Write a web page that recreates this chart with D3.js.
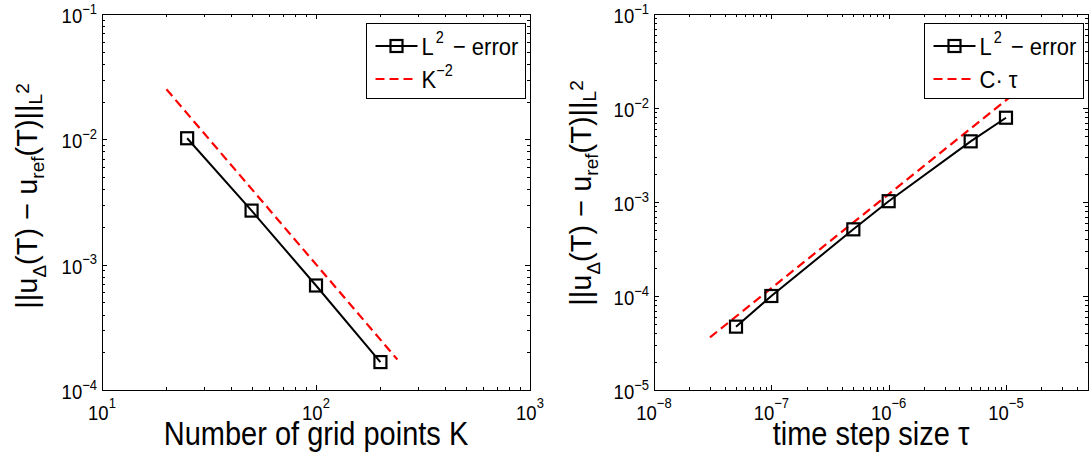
<!DOCTYPE html>
<html>
<head>
<meta charset="utf-8">
<script src="https://cdn.jsdelivr.net/npm/d3@7"></script>
<style>
body { margin: 0; background: #fff; }
svg { display: block; font-family: "Liberation Sans", Arial, sans-serif; }
</style>
</head>
<body>
<script>
// left panel: error vs number of grid points
var gridK = [25, 50, 100, 200];
var gridErr = [1.02e-2, 2.70e-3, 6.82e-4, 1.67e-4];
var gridRefK = [20, 240];
var gridRefErr = [2.51e-2, 1.75e-4];

// right panel: error vs time step
var tau = [5e-8, 1e-7, 5e-7, 1e-6, 5e-6, 1e-5];
var tauErr = [4.72e-5, 1.0e-4, 5.12e-4, 1.02e-3, 4.42e-3, 7.88e-3];
var tauRef = [3e-8, 2e-5];
var tauRefErr = [3.63e-5, 2.42e-2];

// tick label exponents
var leftXExp = [1, 2, 3];
var leftYExp = [-4, -3, -2, -1];
var rightXExp = [-8, -7, -6, -5];
var rightYExp = [-5, -4, -3, -2, -1];

var W = 1091, H = 463, SY = 1.12;

var svg = d3.select("body").append("svg")
    .attr("width", W)
    .attr("height", H);

function sup(e) { return e < 0 ? "\u2212" + (-e) : "" + e; }

// horizontal text looks a bit taller than normal in the reference
function stext(g, x, y) {
  return g.append("text").attr("transform", "translate(" + x + "," + y + ") scale(1," + SY + ")");
}

function isMajor(v) {
  var l = Math.log10(v);
  return Math.abs(l - Math.round(l)) < 1e-6;
}

function frame(g, x, y) {
  var x0 = x.range()[0], x1 = x.range()[1], y0 = y.range()[1], y1 = y.range()[0];
  var xt = x.ticks(), yt = y.ticks();
  var sides = [
    [d3.axisBottom(x), "translate(0," + y1 + ")", xt],
    [d3.axisTop(x), "translate(0," + y0 + ")", xt],
    [d3.axisLeft(y), "translate(" + x0 + ",0)", yt],
    [d3.axisRight(y), "translate(" + x1 + ",0)", yt]
  ];
  sides.forEach(function(s) {
    [[true, 5], [false, 3]].forEach(function(m) {
      var vals = s[2].filter(function(v) { return isMajor(v) === m[0]; });
      var a = g.append("g").attr("transform", s[1])
          .call(s[0].tickValues(vals).tickSizeInner(-m[1]).tickSizeOuter(0).tickFormat(""));
      a.select(".domain").remove();
      a.selectAll("line").attr("stroke", "#000").attr("shape-rendering", "crispEdges");
    });
  });
  g.append("rect")
      .attr("x", x0 + 0.5).attr("y", y0 + 0.5)
      .attr("width", x1 - x0).attr("height", y1 - y0)
      .attr("fill", "none").attr("stroke", "#000")
      .attr("shape-rendering", "crispEdges");
}

function xTickLabels(g, x, exps, yb) {
  exps.forEach(function(e) {
    var t = stext(g, x(Math.pow(10, e)), yb).attr("text-anchor", "middle").attr("font-size", 18.5);
    t.append("tspan").text("10");
    t.append("tspan").attr("font-size", 13).attr("dy", -12.5 / SY).text(sup(e));
  });
}

function yTickLabels(g, y, exps, xr) {
  exps.forEach(function(e) {
    var t = stext(g, xr, y(Math.pow(10, e)) + 9).attr("text-anchor", "end").attr("font-size", 18.5);
    t.append("tspan").text("10");
    t.append("tspan").attr("font-size", 13).attr("dy", -9.5 / SY).text(sup(e));
  });
}

function yLabel(g, xb, yc) {
  var t = g.append("text")
      .attr("transform", "translate(" + xb + "," + yc + ") rotate(-90)")
      .attr("text-anchor", "middle")
      .attr("font-size", 29);
  t.append("tspan").text("||u");
  t.append("tspan").attr("font-size", 19).attr("dy", 9).text("\u0394");
  t.append("tspan").attr("dy", -9).text("(T) \u2212 u");
  t.append("tspan").attr("font-size", 19).attr("dy", 6.5).text("ref");
  t.append("tspan").attr("dy", -6.5).text("(T)||");
  t.append("tspan").attr("font-size", 19).attr("dy", 5).text("L");
  t.append("tspan").attr("font-size", 19).attr("dy", -13).text("2");
}

function panel(o) {
  var g = svg.append("g");
  var x = d3.scaleLog().domain(o.xd).range(o.xr);
  var y = d3.scaleLog().domain(o.yd).range([390, 14]);
  var line = d3.line()
      .x(function(d) { return x(d[0]); })
      .y(function(d) { return y(d[1]); });

  frame(g, x, y);
  xTickLabels(g, x, o.xExp, 420);
  yTickLabels(g, y, o.yExp, o.xr[0] - 5);

  var p = g.append("g");
  p.append("path")
      .datum(d3.zip(o.refX, o.refY))
      .attr("d", line)
      .attr("fill", "none").attr("stroke", "#ff0000")
      .attr("stroke-width", 2.2).attr("stroke-dasharray", "9,5");
  p.append("path")
      .datum(d3.zip(o.dx, o.dy))
      .attr("d", line)
      .attr("fill", "none").attr("stroke", "#000").attr("stroke-width", 2);
  p.selectAll(".mk")
      .data(d3.zip(o.dx, o.dy))
      .enter().append("rect")
      .attr("class", "mk")
      .attr("x", function(d) { return x(d[0]) - 6; })
      .attr("y", function(d) { return y(d[1]) - 6; })
      .attr("width", 12).attr("height", 12)
      .attr("fill", "none").attr("stroke", "#000").attr("stroke-width", 2.2);

  // x label
  stext(g, (o.xr[0] + o.xr[1]) / 2, 445)
      .attr("text-anchor", "middle").attr("font-size", 29).text(o.xlabel);
  yLabel(g, o.ylx, o.yly);

  // legend
  var bx = o.xr[1] - 163.5, by = 23.5;
  var lg = g.append("g");
  lg.append("rect").attr("x", bx).attr("y", by).attr("width", 159).attr("height", 75)
      .attr("fill", "#fff").attr("stroke", "#000").attr("shape-rendering", "crispEdges");
  var r1 = by + 22.5, r2 = by + 55.5;
  lg.append("line").attr("x1", bx + 9).attr("x2", bx + 51).attr("y1", r1).attr("y2", r1)
      .attr("stroke", "#000").attr("stroke-width", 2);
  lg.append("rect").attr("x", bx + 24).attr("y", r1 - 6).attr("width", 12).attr("height", 12)
      .attr("fill", "none").attr("stroke", "#000").attr("stroke-width", 2.2);
  lg.append("line").attr("x1", bx + 9).attr("x2", bx + 51).attr("y1", r2).attr("y2", r2)
      .attr("stroke", "#ff0000").attr("stroke-width", 2.2).attr("stroke-dasharray", "9,5");

  var t1 = stext(lg, bx + 55, r1 + 8.6).attr("font-size", 22);
  t1.append("tspan").text("L");
  t1.append("tspan").attr("font-size", 14.5).attr("dx", 2).attr("dy", -12 / SY).text("2");
  t1.append("tspan").attr("dy", 12 / SY).attr("dx", 3).text(" \u2212 error");

  var t2 = stext(lg, bx + 55, r2 + 8.6).attr("font-size", 22);
  o.ref(t2);
}

panel({
  xd: [10, 1000], xr: [102, 530],
  yd: [1e-4, 1e-1],
  xExp: leftXExp, yExp: leftYExp,
  dx: gridK, dy: gridErr, refX: gridRefK, refY: gridRefErr,
  xlabel: "Number of grid points K",
  ylx: 37, yly: 196,
  ref: function(t) {
    t.append("tspan").text("K");
    t.append("tspan").attr("font-size", 14.5).attr("dy", -12 / SY).text("\u22122");
  }
});

panel({
  xd: [1e-8, 5e-5], xr: [654, 1088],
  yd: [1e-5, 1e-1],
  xExp: rightXExp, yExp: rightYExp,
  dx: tau, dy: tauErr, refX: tauRef, refY: tauRefErr,
  xlabel: "time step size \u03c4",
  ylx: 591, yly: 193,
  ref: function(t) {
    t.append("tspan").text("C\u00b7 \u03c4");
  }
});
</script>
</body>
</html>
